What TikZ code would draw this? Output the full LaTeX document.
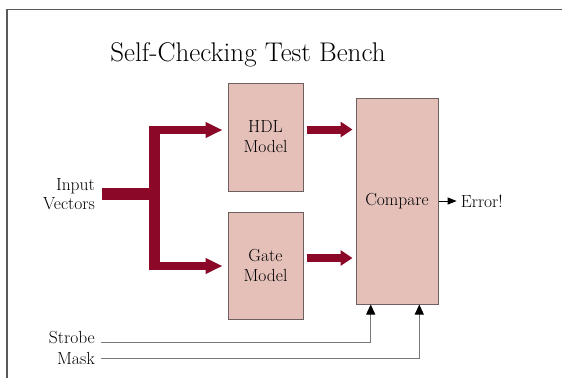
\documentclass[tikz,border=0pt]{standalone}
\usetikzlibrary{arrows.meta}
\definecolor{busred}{RGB}{140,8,40}
\definecolor{boxfill}{RGB}{228,192,185}
\definecolor{boxline}{RGB}{110,96,94}
\definecolor{frameline}{RGB}{90,90,90}
\definecolor{sigline}{RGB}{120,120,120}
\begin{document}
\begin{tikzpicture}[x=1pt,y=-1pt,
  block/.style={draw=boxline,line width=1pt,fill=boxfill,inner sep=0pt,
    align=center,font=\fontsize{17.5}{20}\selectfont},
  lbl/.style={inner sep=0pt,font=\fontsize{17.5}{19}\selectfont},
  bus/.style={draw=busred,line width=8pt},
  busin/.style={bus,-{Triangle[length=17pt,width=15pt]}},
  busout/.style={bus,-{Triangle[length=12pt,width=15pt]}},
  sig/.style={draw=sigline,line width=0.9pt,
    -{Triangle[length=10pt,width=9pt,color=black]}},
]
\useasboundingbox (0,0) rectangle (562,378);
% outer frame (top and left edges)
\draw[frameline,line width=1.4pt] (562,9.3) -- (7,9.3) -- (7,378);

% title
\node[font=\fontsize{27}{32}\selectfont] (title) at (248,55) {Self-Checking Test Bench};

% blocks
\node[block,minimum width=75pt,minimum height=108pt] (hdl) at (265.5,137) {HDL\\Model};
\node[block,minimum width=75pt,minimum height=107pt] (gate) at (265.5,265.5) {Gate\\Model};
\node[block,minimum width=82pt,minimum height=206pt] (cmp) at (397,201) {Compare};

% labels
\node[lbl,align=right,anchor=east] (inp) at (95,194) {Input\\Vectors};
\node[lbl,anchor=east] (err) at (503,201) {Error!};
\node[lbl,anchor=east] (strobe) at (95,338) {Strobe};
\node[lbl,anchor=east] (mask) at (95,358) {Mask};

% fan-out of the input vectors
\coordinate (jt) at (154.5,130);
\coordinate (jb) at (154.5,266);
\coordinate (jm) at (154.5,194);
\draw[draw=busred,line width=12pt] ([xshift=6.7pt]inp.east) -- (jm);
\draw[draw=busred,line width=10.5pt] ([yshift=4pt]jt) -- ([yshift=-4pt]jb);
\draw[busin] ([xshift=-5pt]jt) -- ([xshift=-5pt,yshift=7pt]hdl.west);
\draw[busin] ([xshift=-5pt]jb) -- ([xshift=-5pt,yshift=-0.5pt]gate.west);

% model outputs into the comparator
\draw[busout] ([xshift=3pt,yshift=7.5pt]hdl.east) -- ([xshift=-3pt,yshift=71.5pt]cmp.west);
\draw[busout] ([xshift=3pt,yshift=7.5pt]gate.east) -- ([xshift=-3pt,yshift=-57pt]cmp.west);

% result and control signals
\draw[draw=black,line width=0.9pt,-{Triangle[length=9pt,width=7pt]}] (cmp.east) -- ([xshift=-4pt]err.west);
\draw[sig] ([xshift=6pt,yshift=-4.3pt]strobe.east) -| ([xshift=-26.3pt]cmp.south);
\draw[sig] ([xshift=6pt]mask.east) -| ([xshift=22.3pt]cmp.south);
\end{tikzpicture}
\end{document}
